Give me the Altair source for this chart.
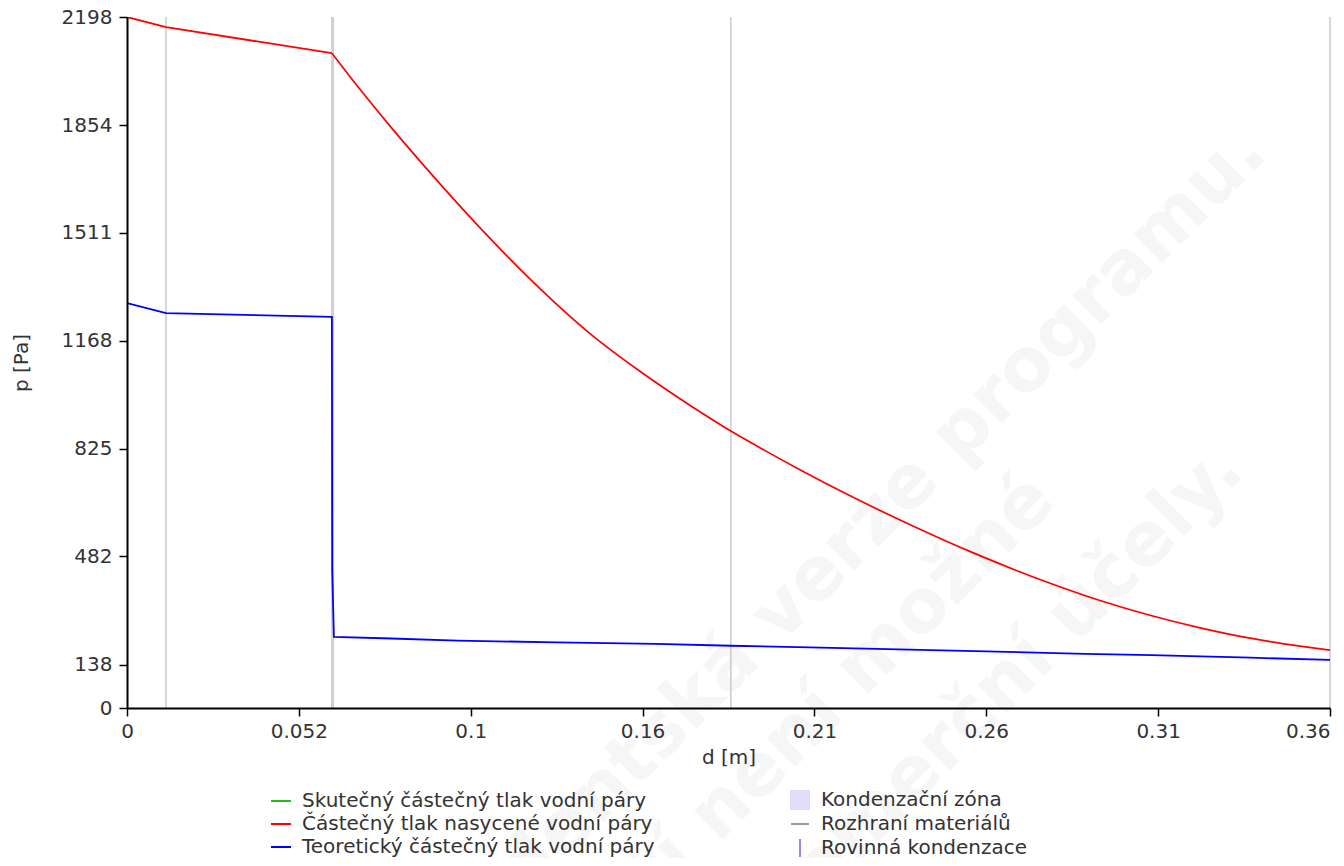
import altair as alt
import pandas as pd

# ---- data ----
series_names = [
    "Skutečný částečný tlak vodní páry",
    "Částečný tlak nasycené vodní páry",
    "Teoretický částečný tlak vodní páry",
]
series_colors = ["#22bb22", "#ff0000", "#0000ff"]

# saturated vapour pressure (red); knee at the 2nd material interface
red_d = [0.0, 0.0118, 0.0620, 0.0705, 0.0796, 0.0917, 0.1074, 0.1219, 0.1401,
         0.1552, 0.1703, 0.1827, 0.1915, 0.2036, 0.2188, 0.2339, 0.2566,
         0.2793, 0.2944, 0.3095, 0.3247, 0.3398, 0.3549, 0.364]
red_p = [2198, 2166, 2083, 1968, 1851, 1703, 1521, 1365, 1191, 1071, 963, 881,
         828, 758, 675, 598, 491, 397, 342, 295, 255, 222, 197, 184]
red_knee = 0.0620

# theoretical partial vapour pressure (blue)
blue_d = [0.0, 0.0118, 0.0620, 0.0621, 0.0626, 0.08, 0.1, 0.13, 0.16, 0.1827,
          0.21, 0.24, 0.26, 0.29, 0.31, 0.34, 0.364]
blue_p = [1288, 1256, 1244, 440, 226, 221, 214, 209, 204, 198, 192, 185, 180,
          172, 168, 160, 153]

# material interfaces
interfaces = [0.0118, 0.0620, 0.0624, 0.1827, 0.364]

x_ticks = [0, 0.052, 0.104, 0.156, 0.208, 0.26, 0.312, 0.364]
y_ticks = [0, 138, 482, 825, 1168, 1511, 1854, 2198]

legend2_names = ["Kondenzační zóna", "Rozhraní materiálů", "Rovinná kondenzace"]
legend2_colors = ["#dedef8", "#9a9a9a", "#8c8cf0"]
legend2_shapes = ["square", "M-1,0L1,0", "M0,-1L0,1"]

watermark_lines = ["Studentská verze programu.", "Použití není možné", "pro komerční účely."]

# ---- build tables ----
df_red = pd.DataFrame({"d": red_d, "p": red_p, "series": series_names[1]})
df_blue = pd.DataFrame({"d": blue_d, "p": blue_p, "series": series_names[2]})
df_straight = pd.concat([df_red[df_red["d"] <= red_knee], df_blue])
df_curve = df_red[df_red["d"] >= red_knee]
df_if = pd.DataFrame({"d": interfaces})
df_leg2 = pd.DataFrame({"kind": legend2_names})
df_wm = pd.DataFrame({"t": watermark_lines})

FONT = "DejaVu Sans"

x_enc = alt.X(
    "d:Q",
    title="d [m]",
    scale=alt.Scale(domain=[0, 0.364], nice=False, zero=False),
    axis=alt.Axis(
        values=x_ticks, format=".2~r", grid=False, zindex=1,
        labelAlign={"condition": {"test": "datum.value >= 0.36", "value": "right"}, "value": "center"},
        labelPadding=5, titlePadding=6,
    ),
)
y_enc = alt.Y(
    "p:Q",
    title="p [Pa]",
    scale=alt.Scale(domain=[0, 2198], nice=False),
    axis=alt.Axis(values=y_ticks, format="d", grid=False, zindex=1,
                  labelPadding=7, titlePadding=30),
)
color_enc = alt.Color(
    "series:N",
    scale=alt.Scale(domain=series_names, range=series_colors),
    legend=alt.Legend(orient="none", legendX=143, legendY=773, title=None,
                      labelFontSize=20, labelFont=FONT, labelColor="#333333", labelLimit=0,
                      symbolType="stroke", symbolSize=400, symbolStrokeWidth=2,
                      rowPadding=2, labelOffset=10, padding=0),
)


def wm_line(i, px, py):
    # faint diagonal watermark text (decoration)
    return alt.Chart(df_wm.iloc[[i]]).mark_text(
        font=FONT, fontSize=74, fontWeight="bold", color="#f6f6f6",
        angle=315, align="center", baseline="middle",
    ).encode(text="t:N", x=alt.value(px), y=alt.value(py))


wm1 = wm_line(0, 705, 545)
wm2 = wm_line(1, 635, 752)
wm3 = wm_line(2, 815, 730)

rules = alt.Chart(df_if).mark_rule(color="#cdcdcd", strokeWidth=1.6).encode(x=x_enc)

leg2_cfg = dict(orient="none", legendX=663, legendY=773, title=None,
                labelFontSize=20, labelFont=FONT, labelColor="#333333", labelLimit=0,
                symbolSize=324, symbolStrokeWidth=2, rowPadding=1,
                labelOffset=11, padding=0)
leg2 = alt.Chart(df_leg2).transform_filter("false").mark_point(filled=True, opacity=1).encode(
    shape=alt.Shape("kind:N", scale=alt.Scale(domain=legend2_names, range=legend2_shapes),
                    legend=alt.Legend(**leg2_cfg)),
    fill=alt.Fill("kind:N", scale=alt.Scale(domain=legend2_names, range=legend2_colors),
                  legend=alt.Legend(**leg2_cfg)),
    stroke=alt.Stroke("kind:N", scale=alt.Scale(domain=legend2_names, range=legend2_colors),
                      legend=alt.Legend(**leg2_cfg)),
)

lines_straight = alt.Chart(df_straight).mark_line(strokeWidth=1.8, clip=True).encode(
    x=x_enc, y=y_enc, color=color_enc,
)
lines_curve = alt.Chart(df_curve).mark_line(strokeWidth=1.7, clip=True, interpolate="monotone").encode(
    x=x_enc, y=y_enc, color=color_enc,
)

chart = alt.layer(wm1, wm2, wm3, rules, leg2, lines_straight, lines_curve).properties(
    width=1203, height=691,
    autosize=alt.AutoSizeParams(type="none"),
    padding={"left": 119, "top": 9, "right": 6, "bottom": 150},
    background="white",
).configure(font=FONT).configure_view(stroke=None).configure_axis(
    domainColor="#000000", domainWidth=2, tickColor="#000000", tickWidth=1.5, tickSize=8,
    labelFont=FONT, labelFontSize=20, labelColor="#333333",
    titleFont=FONT, titleFontSize=20, titleFontWeight="normal", titleColor="#333333",
)

chart.save("out.html", embed_options={"renderer": "svg", "actions": False})
